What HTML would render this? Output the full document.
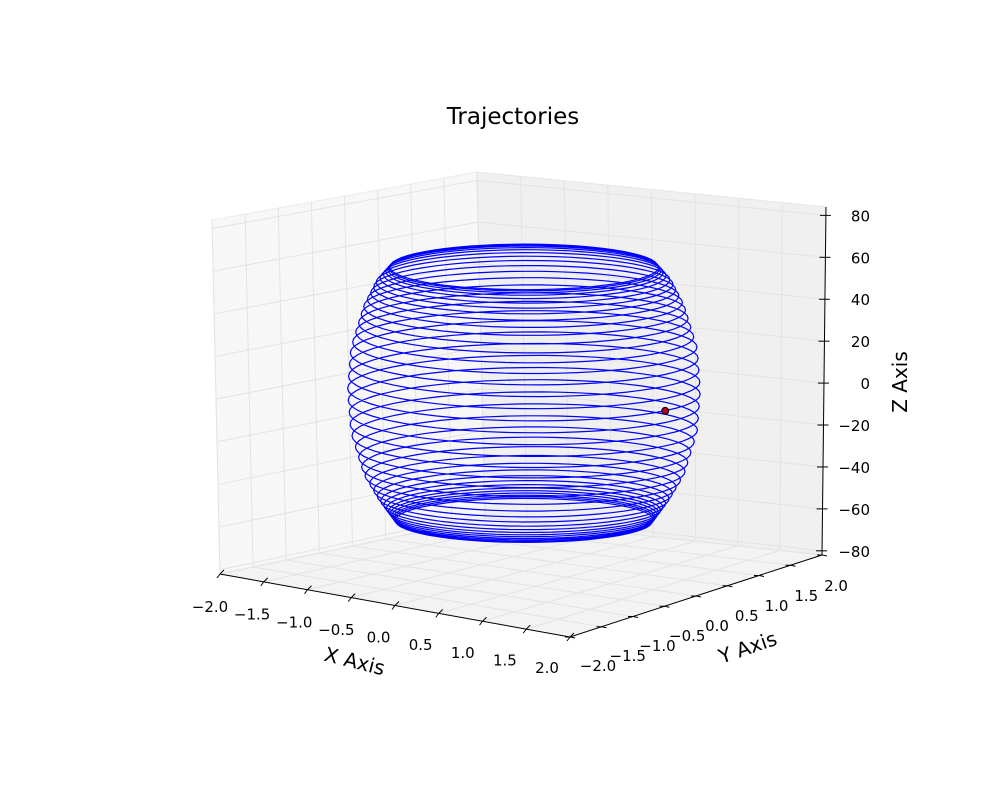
<!DOCTYPE html>
<html><head><meta charset="utf-8"><style>
body{margin:0;background:#fff;}
svg{display:block;font-family:"Liberation Sans","DejaVu Sans",sans-serif;}
</style></head><body>
<svg id="chart" width="1000" height="800" viewBox="0 0 1000 800">
<rect width="1000" height="800" fill="#fff"/>
<text x="513" y="124" font-size="23" text-anchor="middle" font-family="DejaVu Sans, sans-serif">Trajectories</text>
<g id="panes"></g>
<g id="grid"></g>
<g id="axes"></g>
<g id="series"></g>
<text transform="translate(353,668) rotate(14)" font-size="20" text-anchor="middle" font-family="DejaVu Sans, sans-serif">X Axis</text>
<text transform="translate(750,654) rotate(-19)" font-size="20" text-anchor="middle" font-family="DejaVu Sans, sans-serif">Y Axis</text>
<text transform="translate(907,382) rotate(-90)" font-size="20" text-anchor="middle" font-family="DejaVu Sans, sans-serif">Z Axis</text>
</svg>
<script>
const xTicks = [-2.0,-1.5,-1.0,-0.5,0.0,0.5,1.0,1.5,2.0];
const yTicks = [-2.0,-1.5,-1.0,-0.5,0.0,0.5,1.0,1.5,2.0];
const zTicks = [-80,-60,-40,-20,0,20,40,60,80];
const turnZ = [-63,-62.4,-61.7,-61,-60,-59,-57.8,-56.3,-54.5,-52.3,-49.7,-46.7,-43.2,-39.2,-34.8,-30,-24.8,-19.3,-13.6,-7.8,-2,3.8,9.6,15.2,20.6,25.6,30.2,34.4,38.4,42,45.3,48.2,50.8,53,55,56.5,57.6,58.4,59,59.4];
const profileZ = [-63,-52,-40,-20,0,20,40,52,59.4];
const profileR = [1.2,1.36,1.5,1.62,1.65,1.62,1.5,1.38,1.25];
const markerPoint = [1.04,0.82,-10];

const NS="http://www.w3.org/2000/svg";
function mk(tag,attrs,parent){const e=document.createElementNS(NS,tag);for(const k in attrs)e.setAttribute(k,attrs[k]);parent.appendChild(e);return e;}
const A=[220,574],B=[570,637],C=[822,555],D=[485,518],TA=[212,220],TD=[477,172],TC=[826,207];
const zMin=-82,zMax=84;
function lerp(p,q,t){return [p[0]+(q[0]-p[0])*t,p[1]+(q[1]-p[1])*t];}
const xf=v=>(v+2)/4, yf=v=>(v+2)/4, zf=v=>(v-zMin)/(zMax-zMin);
const panes=document.getElementById('panes'),grid=document.getElementById('grid'),axes=document.getElementById('axes'),series=document.getElementById('series');
const pts=a=>a.map(p=>p.join(',')).join(' ');
let p;
p=mk('polygon',{points:pts([A,D,TD,TA]),fill:'#f7f7f7',stroke:'#ececec'},panes);

p=mk('polygon',{points:pts([D,C,TC,TD]),fill:'#f0f0f0',stroke:'#e6e6e6'},panes);

p=mk('polygon',{points:pts([A,B,C,D]),fill:'#f3f3f3',stroke:'#e6e6e6'},panes);

function gl(p1,p2){const l=mk('line',{x1:p1[0],y1:p1[1],x2:p2[0],y2:p2[1],stroke:'#e3e3e3','stroke-width':1},grid);
}
yTicks.forEach(v=>{const t=yf(v);gl(lerp(A,D,t),lerp(TA,TD,t));gl(lerp(A,D,t),lerp(B,C,t));});
xTicks.forEach(v=>{const t=xf(v);gl(lerp(D,C,t),lerp(TD,TC,t));gl(lerp(A,B,t),lerp(D,C,t));});
zTicks.forEach(v=>{const t=zf(v);gl(lerp(A,TA,t),lerp(D,TD,t));gl(lerp(D,TD,t),lerp(C,TC,t));});
function al(p1,p2,n){const l=mk('line',{x1:p1[0],y1:p1[1],x2:p2[0],y2:p2[1],stroke:'#000','stroke-width':1},axes);
}
al(A,B,'x-axis-line');al(B,C,'y-axis-line');al(C,TC,'z-axis-line');
function lab(x,y,s,anchor,n){const t=mk('text',{x:x,y:y,'font-size':15,'text-anchor':anchor,'font-family':'DejaVu Sans, sans-serif'},axes);t.textContent=s;
}
const fmt=v=>(v<0?'\u2212':'')+Math.abs(v).toFixed(1);
xTicks.forEach(v=>{const t=xf(v);const q=lerp(A,B,t);
  al([q[0],q[1]],[q[0]-3,q[1]+4],'x-tick');al([q[0],q[1]],[q[0]+4,q[1]-4],'x-tick');
  const L=lerp([210,607],[547,668],t);lab(L[0],L[1]+5,fmt(v),'middle','x-tick-label');});
yTicks.forEach(v=>{const t=yf(v);const q=lerp(B,C,t);
  al([q[0],q[1]],[q[0]+5,q[1]+1],'y-tick');al([q[0],q[1]],[q[0]-5,q[1]],'y-tick');
  const L=lerp([598,666],[836,586],t);lab(L[0],L[1]+5,fmt(v),'middle','y-tick-label');});
zTicks.forEach(v=>{const t=zf(v);const q=lerp(C,TC,t);
  al([q[0]-6,q[1]],[q[0]+5,q[1]],'z-tick');
  lab(870,q[1]+6,(v<0?'\u2212':'')+Math.abs(v),'end','z-tick-label');});
const cx=524, cy0=390, kz=2.08, kx=107, ky=18;
function radiusAt(z){for(let i=0;i<profileZ.length-1;i++){if(z<=profileZ[i+1]){const t=(z-profileZ[i])/(profileZ[i+1]-profileZ[i]);return profileR[i]+(profileR[i+1]-profileR[i])*Math.max(0,t);}}return profileR[profileR.length-1];}
function proj(x,y,z){return [cx+kx*(x*0.78+y*0.62), cy0-kz*z+ky*(x*0.62-y*0.78)];}
let d='';
for(let i=0;i<turnZ.length-1;i++){
  for(let s=0;s<=60;s++){const u=s/60;const z=turnZ[i]+(turnZ[i+1]-turnZ[i])*u;const r=radiusAt(z);const a=2*Math.PI*u;
    const sp=[cx+kx*r*Math.cos(a), cy0-kz*z+ky*r*Math.sin(a)];
    d+=(d===''?'M':'L')+sp[0].toFixed(1)+','+sp[1].toFixed(1);}
}
const path=mk('path',{d:d,fill:'none',stroke:'#0000ff','stroke-width':1.2},series);


const mp=proj(markerPoint[0],markerPoint[1],markerPoint[2]);
const dot=mk('circle',{cx:mp[0],cy:mp[1],r:3.5,fill:'#b00020',stroke:'#000','stroke-width':1},series);


</script>
</body></html>
